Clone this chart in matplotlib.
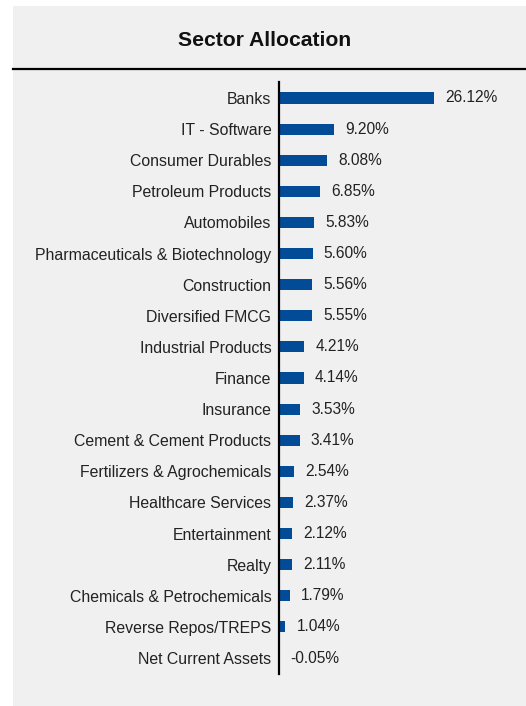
import matplotlib
matplotlib.use("Agg")
import matplotlib.pyplot as plt
from matplotlib.patches import Rectangle
from matplotlib.lines import Line2D

plt.rcParams['font.family'] = ['Liberation Sans', 'DejaVu Sans']

sectors = ['Banks', 'IT - Software', 'Consumer Durables', 'Petroleum Products',
           'Automobiles', 'Pharmaceuticals & Biotechnology', 'Construction',
           'Diversified FMCG', 'Industrial Products', 'Finance', 'Insurance',
           'Cement & Cement Products', 'Fertilizers & Agrochemicals',
           'Healthcare Services', 'Entertainment', 'Realty',
           'Chemicals & Petrochemicals', 'Reverse Repos/TREPS', 'Net Current Assets']
weights = [26.12, 9.20, 8.08, 6.85, 5.83, 5.60, 5.56, 5.55, 4.21, 4.14, 3.53,
           3.41, 2.54, 2.37, 2.12, 2.11, 1.79, 1.04, -0.05]

W, H = 526, 706
fig = plt.figure(figsize=(W / 100, H / 100), dpi=100)
fig.patch.set_facecolor('white')

# grey card behind everything
card = Rectangle((13 / W, 0), 1 - 13 / W, 1 - 6 / H, transform=fig.transFigure,
                 facecolor='#f0f0f0', edgecolor='none', zorder=-5)
fig.add_artist(card)
fig.text(265 / W, 1 - 40 / H, 'Sector Allocation', ha='center', va='center',
         fontsize=15.2, fontweight='bold', color='#111111')
fig.add_artist(Line2D([13 / W, 1], [1 - 69 / H, 1 - 69 / H], transform=fig.transFigure,
                      color='black', lw=1.6))

ax = fig.add_axes([279 / W, 1 - 674 / H, 236 / W, 592 / H])
ax.set_facecolor('none')
ax.set_zorder(2)
pos = list(range(len(sectors)))
ax.barh(pos, weights, height=0.36, color='#024c97')
for y, v in zip(pos, weights):
    ax.annotate(f'{v:.2f}%', (v, y), xytext=(8, 0), textcoords='offset points',
                va='center', ha='left', fontsize=11.2, color='#222222')

ax.set_xlim(-0.05, 39.7)
ax.set_ylim(len(sectors) - 1 + 0.514, -0.514)
ax.set_yticks(pos)
ax.set_yticklabels(sectors, fontsize=11.4, color='#222222')
ax.tick_params(axis='y', length=0, pad=5.5)
ax.set_xticks([])
for s in ['top', 'right', 'bottom']:
    ax.spines[s].set_visible(False)
ax.spines['left'].set_linewidth(1.6)
ax.spines['left'].set_color('black')

fig.savefig('out.png', dpi=100)
